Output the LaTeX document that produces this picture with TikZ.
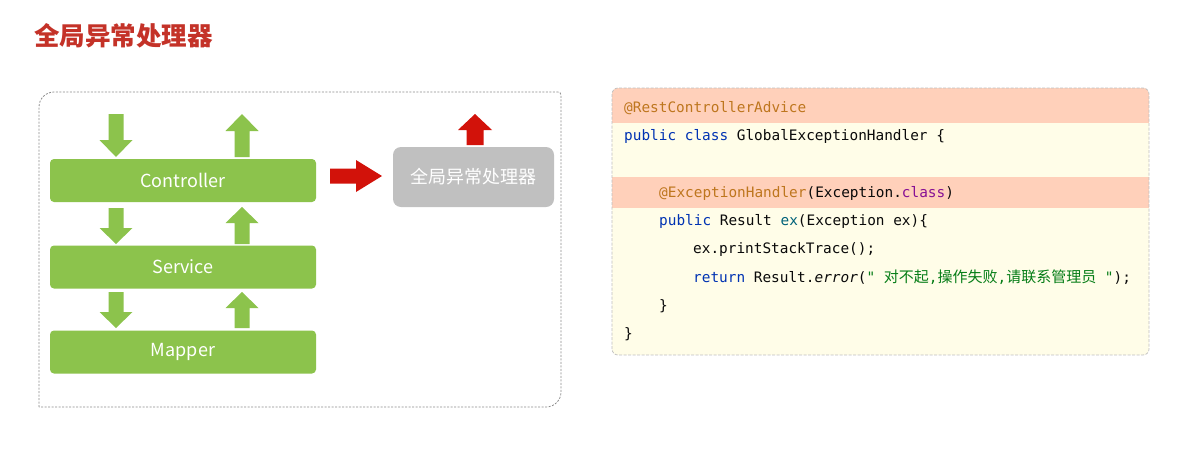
\documentclass[tikz,border=0pt]{standalone}
\usepackage{fontspec}
\setmainfont{Noto Sans CJK SC}
\newfontfamily\cjk{Noto Sans CJK SC}
\newfontfamily\codefont{DejaVu Sans Mono}
\definecolor{titlered}{RGB}{196,50,40}
\definecolor{boxgreen}{RGB}{140,195,76}
\definecolor{arrred}{RGB}{210,18,10}
\definecolor{boxgray}{RGB}{192,192,192}
\definecolor{dashgray}{RGB}{140,140,140}
\definecolor{codebg}{RGB}{255,253,232}
\definecolor{codehl}{RGB}{255,208,186}
\definecolor{codeborder}{RGB}{190,190,190}
\definecolor{kw}{RGB}{0,51,179}
\definecolor{annot}{RGB}{190,118,30}
\definecolor{purp}{RGB}{135,16,148}
\definecolor{meth}{RGB}{0,98,122}
\definecolor{strg}{RGB}{6,125,23}
\definecolor{codeblack}{RGB}{10,10,10}
\tikzset{
  pics/barrow/.style n args={4}{code={%
    \fill[pic actions] (0,-#3) -- (#1-#2,-#3) -- (#1-#2,-#4) -- (#1,0)
      -- (#1-#2,#4) -- (#1-#2,#3) -- (0,#3) -- cycle;}},
  garrow/.style={fill=boxgreen},
  rarrow/.style={fill=arrred},
  gbox/.style={fill=boxgreen, text=white, minimum width=266, minimum height=43,
    inner sep=0, rounded corners=4, font=\fontsize{18}{20}\selectfont},
  graybox/.style={fill=boxgray, text=white, minimum width=161, minimum height=60,
    inner sep=0, rounded corners=8, font=\cjk\fontsize{18}{20}\selectfont},
  codeline/.style={anchor=base west, inner sep=0, text=codeblack,
    font=\codefont\fontsize{14.4}{16}\selectfont},
  dashbox/.style={draw=dashgray, line width=0.8pt, dash pattern=on 2pt off 1.5pt},
}
\begin{document}
\begin{tikzpicture}[x=1pt,y=-1pt]
\useasboundingbox[fill=white] (0,0) rectangle (1178,450);

% title
\node[anchor=west, inner sep=0, text=titlered, font=\cjk\bfseries\fontsize{25.5}{28}\selectfont] (title) at (34,36) {全局异常处理器};

% left dashed frame
\draw[dashbox] (39,407) -- (39,107) .. controls (39,98.7) and (45.7,92) .. (54,92)
  -- (558,92) .. controls (559.7,92) and (561,93.3) .. (561,95)
  -- (561,392) .. controls (561,400.3) and (554.3,407) .. (546,407) -- cycle;

% layer boxes
\node[gbox] (ctrl) at (183,180.5) {Controller};
\node[gbox] (svc) at (183,267) {Service};
\node[gbox] (map) at (183,352) {Mapper};

% green arrows
\pic[garrow, rotate=-90] at (116,114) {barrow={43}{17}{7.5}{16.5}};
\pic[garrow, rotate=90] at (242,157) {barrow={43}{17}{7.5}{16.5}};
\pic[garrow, rotate=-90] at (116,208) {barrow={36}{16}{7.5}{16.5}};
\pic[garrow, rotate=90] at (242,244) {barrow={37}{16}{7.5}{16.5}};
\pic[garrow, rotate=-90] at (116,292) {barrow={36}{16}{7.5}{16.5}};
\pic[garrow, rotate=90] at (242,328) {barrow={36}{16}{7.5}{16.5}};

% global handler
\node[graybox] (geh) at (473.5,177) {全局异常处理器};
\pic[rarrow] at (330,176) {barrow={52}{26}{7.5}{16}};
\pic[rarrow, rotate=90] at (475,145) {barrow={31}{16}{8.5}{17}};

% code panel
\begin{scope}
  \clip[rounded corners=6] (612,88) rectangle (1149,355);
  \fill[codebg] (612,88) rectangle (1149,355);
  \fill[codehl] (612,88) rectangle (1149,123);
  \fill[codehl] (612,177) rectangle (1149,208);
\end{scope}
\draw[draw=codeborder, line width=0.7pt, dash pattern=on 3pt off 1.5pt, rounded corners=6]
  (612,88) rectangle (1149,355);

\node[codeline] (l1) at (624,112) {\textcolor{annot}{@RestControllerAdvice}};
\node[codeline] (l2) at (624,140) {\textcolor{kw}{public} \textcolor{kw}{class} GlobalExceptionHandler \{};
\node[codeline] (l4) at (659,197) {\textcolor{annot}{@ExceptionHandler}(Exception.\textcolor{purp}{class})};
\node[codeline] (l5) at (659,225) {\textcolor{kw}{public} Result \textcolor{meth}{ex}(Exception ex)\{};
\node[codeline] (l6) at (693,253) {ex.printStackTrace();};
\node[codeline] (l7) at (693,282) {\textcolor{kw}{return} Result.{\itshape error}(\textcolor{strg}{" {\cjk\fontsize{15}{16}\selectfont 对不起},{\cjk\fontsize{15}{16}\selectfont 操作失败},{\cjk\fontsize{15}{16}\selectfont 请联系管理员} "});};
\node[codeline] (l8) at (659,310) {\}};
\node[codeline] (l9) at (624,338) {\}};
\end{tikzpicture}
\end{document}
